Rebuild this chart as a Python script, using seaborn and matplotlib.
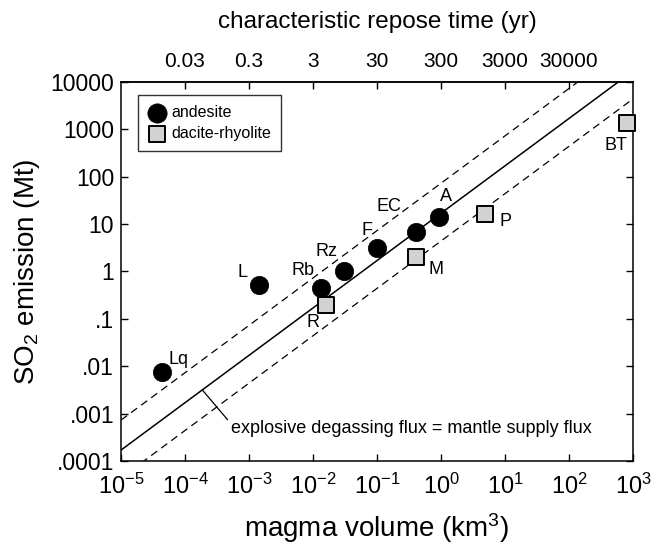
import numpy as np
import pandas as pd
import matplotlib
matplotlib.use('Agg')
import matplotlib.pyplot as plt
import seaborn as sns
from matplotlib.ticker import NullLocator, FixedLocator, FixedFormatter

sns.set_theme(style='ticks')
plt.rcParams['font.family'] = ['Liberation Sans', 'DejaVu Sans']
plt.rcParams['mathtext.fontset'] = 'custom'
plt.rcParams['mathtext.rm'] = 'Liberation Sans'
plt.rcParams['mathtext.it'] = 'Liberation Sans:italic'
plt.rcParams['text.color'] = 'black'
plt.rcParams['axes.labelcolor'] = 'black'
plt.rcParams['xtick.color'] = 'black'
plt.rcParams['ytick.color'] = 'black'

# andesite eruptions (magma volume km3, SO2 Mt)
and_names = ['Lq', 'L', 'Rb', 'Rz', 'F', 'EC', 'A']
and_vol = [4.3e-5, 1.45e-3, 0.0132, 0.030, 0.099, 0.40, 0.92]
and_so2 = [0.0076, 0.52, 0.44, 1.02, 3.1, 6.9, 14.2]

# dacite-rhyolite eruptions
dac_names = ['R', 'M', 'P', 'BT']
dac_vol = [0.0158, 0.40, 4.85, 800]
dac_so2 = [0.20, 2.05, 16.7, 1350]

# label offsets in points (dx, dy)
and_off = [(12, 9), (-12, 9), (-13, 13), (-12, 14), (-7, 13), (-19, 18), (5, 15)]
dac_off = [(-9, -13), (15, -9), (15, -6), (-8, -16)]

# flux lines: SO2 = k * volume
k_mid = 17
k_hi = 73
k_lo = 4.4
repose_factor = 300  # yr per km3

yticks = [1e-4, 1e-3, 1e-2, 1e-1, 1, 10, 100, 1000, 1e4]
ylabels = ['.0001', '.001', '.01', '.1', '1', '10', '100', '1000', '10000']
top_ticks = [0.03, 0.3, 3, 30, 300, 3000, 30000]
top_labels = ['0.03', '0.3', '3', '30', '300', '3000', '30000']

df_and = pd.DataFrame({'vol': and_vol, 'so2': and_so2, 'name': and_names})
df_dac = pd.DataFrame({'vol': dac_vol, 'so2': dac_so2, 'name': dac_names})

fig = plt.figure(figsize=(6.56, 5.48), dpi=100)
ax = fig.add_axes([0.1845, 0.1588, 0.7805, 0.6916])
ax.set_xscale('log')
ax.set_yscale('log')
ax.set_xlim(1e-5, 1e3)
ax.set_ylim(1e-4, 1e4)

xs = np.array([1e-5, 1e3])
ax.plot(xs, k_mid * xs, color='black', lw=1.1, zorder=1)
ax.plot(xs, k_hi * xs, color='black', lw=0.9, ls=(0, (6, 4)), zorder=1)
ax.plot(xs, k_lo * xs, color='black', lw=0.9, ls=(0, (6, 4)), zorder=1)

sns.scatterplot(data=df_and, x='vol', y='so2', ax=ax, marker='o', s=175,
                color='black', edgecolor='black', linewidth=0.5,
                label='andesite', zorder=3, clip_on=False)
sns.scatterplot(data=df_dac, x='vol', y='so2', ax=ax, marker='s', s=130,
                color='#d2d2d2', edgecolor='black', linewidth=1.4,
                label='dacite-rhyolite', zorder=3, clip_on=False)

for n, x, y, o in zip(and_names, and_vol, and_so2, and_off):
    ax.annotate(n, (x, y), xytext=o, textcoords='offset points',
                ha='center', va='center', fontsize=13)
for n, x, y, o in zip(dac_names, dac_vol, dac_so2, dac_off):
    ax.annotate(n, (x, y), xytext=o, textcoords='offset points',
                ha='center', va='center', fontsize=13)

ax.annotate('explosive degassing flux = mantle supply flux',
            xy=(1.86e-4, k_mid * 1.86e-4), xytext=(5.2e-4, 4.8e-4),
            ha='left', va='center', fontsize=13,
            arrowprops=dict(arrowstyle='-', color='black', lw=0.9,
                            shrinkA=0, shrinkB=0, relpos=(0, 0.8)))

ax.yaxis.set_major_locator(FixedLocator(yticks))
ax.yaxis.set_major_formatter(FixedFormatter(ylabels))
ax.yaxis.set_minor_locator(NullLocator())
ax.xaxis.set_major_locator(FixedLocator([10.0 ** e for e in range(-5, 4)]))
ax.xaxis.set_minor_locator(NullLocator())
ax.tick_params(axis='both', direction='in', length=5, width=1,
               colors='black')
ax.tick_params(axis='y', right=True, pad=5, labelsize=16.5)
ax.tick_params(axis='x', top=False, pad=9, labelsize=17)
for sp in ax.spines.values():
    sp.set_visible(True)
    sp.set_linewidth(1.1)
    sp.set_color('black')

secax = ax.secondary_xaxis('top', functions=(lambda v: v * repose_factor,
                                              lambda t: t / repose_factor))
secax.xaxis.set_major_locator(FixedLocator(top_ticks))
secax.xaxis.set_major_formatter(FixedFormatter(top_labels))
secax.xaxis.set_minor_locator(NullLocator())
secax.tick_params(direction='in', length=5, width=1, labelsize=15, pad=8)
secax.set_xlabel('characteristic repose time (yr)', fontsize=17.5, labelpad=17)

ax.set_xlabel('magma volume (km$^3$)', fontsize=20, labelpad=9)
ax.set_ylabel('SO$_2$ emission (Mt)', fontsize=20, labelpad=6)

leg = ax.legend(loc='upper left', bbox_to_anchor=(0.033, 0.965), fontsize=11.5,
                frameon=True, fancybox=False, edgecolor='black',
                borderpad=0.6, handletextpad=0.3, labelspacing=0.4,
                handlelength=1.2, borderaxespad=0, markerscale=1.05)
leg.get_frame().set_linewidth(1.0)

fig.savefig('out.png', dpi=100)
